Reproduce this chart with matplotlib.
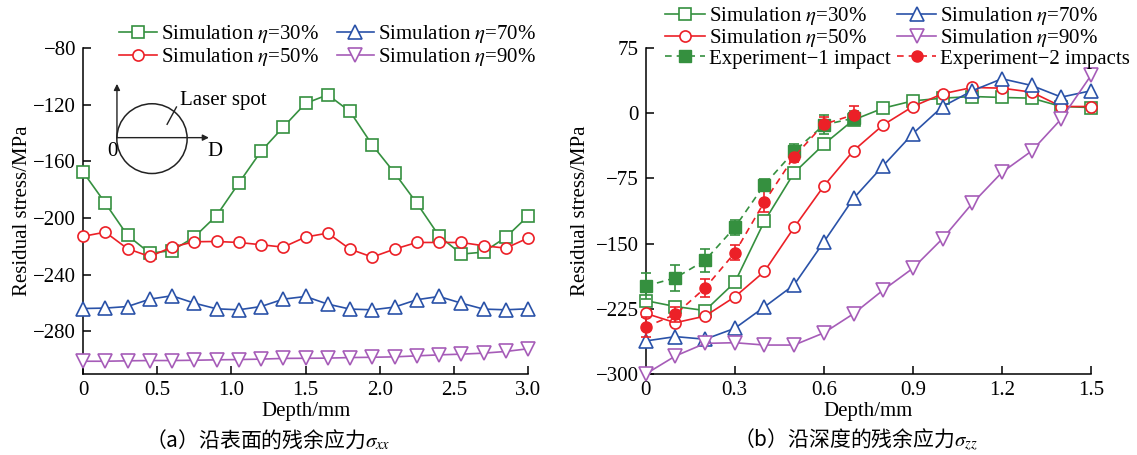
import matplotlib
matplotlib.use("Agg")
import matplotlib.pyplot as plt
from matplotlib.patches import Ellipse

plt.rcParams['font.family'] = ['Liberation Serif', 'DejaVu Serif']
plt.rcParams['mathtext.fontset'] = 'stix'
plt.rcParams['axes.unicode_minus'] = True

# ---- (a) along the surface, sigma_xx ----
depth_a = [0, 0.15, 0.3, 0.45, 0.6, 0.75, 0.9, 1.05, 1.2, 1.35, 1.5,
           1.65, 1.8, 1.95, 2.1, 2.25, 2.4, 2.55, 2.7, 2.85, 3.0]
a_eta30 = [-167.4, -189.4, -212.2, -224.7, -223.0, -213.4, -198.3, -175.4, -152.9, -135.8, -119.1,
           -113.0, -124.8, -148.4, -168.1, -189.4, -212.5, -225.4, -224.0, -213.6, -198.6]
a_eta50 = [-212.9, -209.9, -221.6, -227.1, -220.5, -216.7, -216.5, -217.2, -218.8, -220.5, -213.4,
           -210.6, -221.9, -227.5, -221.9, -217.2, -217.2, -217.2, -219.5, -221.2, -214.1]
a_eta70 = [-263.8, -263.5, -262.4, -257.2, -254.8, -260.0, -264.0, -264.7, -262.4, -257.2, -255.3,
           -260.7, -264.2, -264.7, -262.8, -257.6, -255.3, -260.0, -264.2, -264.7, -264.0]
a_eta90 = [-301.0, -301.0, -300.7, -300.5, -300.5, -300.3, -300.0, -299.8, -299.5, -299.0, -298.9,
           -298.8, -298.4, -298.2, -297.9, -297.2, -296.5, -296.0, -295.3, -294.1, -292.2]
a_xticks = [0, 0.5, 1.0, 1.5, 2.0, 2.5, 3.0]
a_xticklabels = ['0', '0.5', '1.0', '1.5', '2.0', '2.5', '3.0']
a_yticks = [-80, -120, -160, -200, -240, -280]

# ---- (b) along the depth, sigma_zz ----
depth_b = [0, 0.1, 0.2, 0.3, 0.4, 0.5, 0.6, 0.7, 0.8, 0.9, 1.0, 1.1, 1.2, 1.3, 1.4, 1.5]
b_eta30 = [-215.6, -222.4, -227.0, -194.7, -124.2, -68.5, -35.8, -7.7,
           5.8, 14.2, 17.3, 19.2, 18.1, 17.3, 7.7, 6.5]
b_eta50 = [-230.3, -241.0, -233.4, -211.3, -182.0, -131.4, -83.8, -43.1,
           -13.5, 7.7, 22.3, 29.6, 28.8, 24.2, 7.7, 7.7]
b_eta70 = [-262.0, -257.0, -260.0, -247.5, -222.8, -197.4, -148.1, -98.0,
           -60.4, -23.5, 7.7, 25.8, 39.6, 31.9, 18.5, 25.8]
b_eta90 = [-300.0, -279.3, -264.8, -264.0, -266.7, -266.7, -252.7, -230.7,
           -203.4, -178.4, -144.3, -103.8, -68.1, -43.5, -6.5, 43.5]
exp_depth = [0, 0.1, 0.2, 0.3, 0.4, 0.5, 0.6, 0.7]
exp1 = [-198.9, -189.4, -169.3, -131.4, -82.2, -44.0, -13.5, -5.8]
exp1_err = [15, 15, 13, 9, 6.5, 9, 11, 8]
exp2 = [-245.9, -231.4, -201.0, -160.6, -101.9, -50.0, -12.7, -1.9]
exp2_err = [11.5, 9, 10.5, 8.5, 12, 6.5, 8, 10]
b_xticks = [0, 0.3, 0.6, 0.9, 1.2, 1.5]
b_xticklabels = ['0', '0.3', '0.6', '0.9', '1.2', '1.5']
b_yticks = [75, 0, -75, -150, -225, -300]

labels_sim = [r'Simulation $\eta$=30%', r'Simulation $\eta$=50%',
              r'Simulation $\eta$=70%', r'Simulation $\eta$=90%']
labels_exp = ['Experiment\u22121 impact', 'Experiment\u22122 impacts']

GREEN = '#35903f'
RED = '#ec2027'
BLUE = '#2a52a8'
PURPLE = '#a65cb8'
colors = [GREEN, RED, BLUE, PURPLE]
markers = ['s', 'o', '^', 'v']
msizes = [8, 8, 9.5, 9.5]

FS = 15
W, H = 1137, 455
TOP, BOT = 48, 374

fig = plt.figure(figsize=(W / 100, H / 100), dpi=100)
ax1 = fig.add_axes([83 / W, 1 - BOT / H, 445 / W, (BOT - TOP) / H])
ax2 = fig.add_axes([645.7 / W, 1 - BOT / H, 445.3 / W, (BOT - TOP) / H])

for ax in (ax1, ax2):
    ax.spines['top'].set_visible(False)
    ax.spines['right'].set_visible(False)
    for s in ('left', 'bottom'):
        ax.spines[s].set_linewidth(1.1)
    ax.tick_params(direction='in', length=6, width=1.1, labelsize=FS, pad=5)

# panel (a)
handles_a = []
for ys, c, m, ms, lab in zip([a_eta30, a_eta50, a_eta70, a_eta90], colors, markers, msizes, labels_sim):
    h, = ax1.plot(depth_a, ys, color=c, marker=m, ms=ms, mfc='white', mec=c, mew=1.2,
                  lw=1.2, label=lab, clip_on=False, zorder=3)
    handles_a.append(h)

ax1.set_xlim(0, 3.0)
ax1.set_ylim(-310, -80)
ax1.set_xticks(a_xticks)
ax1.set_xticklabels(a_xticklabels)
ax1.set_yticks(a_yticks)
ax1.set_xlabel('Depth/mm', fontsize=FS)
ax1.set_ylabel('Residual stress/MPa', fontsize=FS)
ax1.xaxis.set_label_coords(0.5, -0.086)
ax1.yaxis.set_label_coords(-0.115, 0.5)

ax1.legend(handles=handles_a, ncol=2, loc='upper left', frameon=False, fontsize=FS,
           bbox_to_anchor=(119 / W, 1 - 23 / H), bbox_transform=fig.transFigure,
           borderpad=0, borderaxespad=0, handlelength=1.8, handletextpad=0.2,
           columnspacing=0.85, labelspacing=0.05)

# laser spot sketch
tr = ax1.transAxes
ax1.add_patch(Ellipse((0.155, 0.722), 0.158, 0.214, transform=tr,
                      fill=False, ec='#222222', lw=1.1))
ax1.annotate('', xy=(0.0763, 0.89), xytext=(0.0763, 0.725), xycoords=tr,
             arrowprops=dict(arrowstyle='-|>', color='#222222', lw=1.0, mutation_scale=9,
                             shrinkA=0, shrinkB=0))
ax1.annotate('', xy=(0.283, 0.725), xytext=(0.0763, 0.725), xycoords=tr,
             arrowprops=dict(arrowstyle='-|>', color='#222222', lw=1.0, mutation_scale=9,
                             shrinkA=0, shrinkB=0))
ax1.plot([0.189, 0.210], [0.766, 0.819], transform=tr, color='#222222', lw=1.0)
ax1.text(0.218, 0.84, 'Laser spot', transform=tr, fontsize=FS, va='center', ha='left')
ax1.text(0.066, 0.684, '0', transform=tr, fontsize=FS, va='center', ha='center')
ax1.text(0.297, 0.684, 'D', transform=tr, fontsize=FS, va='center', ha='center')

# panel (b)
handles_b = []
for ys, c, m, ms, lab in zip([b_eta30, b_eta50, b_eta70, b_eta90], colors, markers, msizes, labels_sim):
    h, = ax2.plot(depth_b, ys, color=c, marker=m, ms=ms, mfc='white', mec=c, mew=1.2,
                  lw=1.2, label=lab, clip_on=False, zorder=3)
    handles_b.append(h)

for ys, err, c, m, lab in zip([exp1, exp2], [exp1_err, exp2_err], [GREEN, RED], ['s', 'o'], labels_exp):
    ax2.errorbar(exp_depth, ys, yerr=err, fmt='none', ecolor=c, elinewidth=1.2,
                 capsize=3.5, capthick=1.2, zorder=4, clip_on=False)
    h, = ax2.plot(exp_depth, ys, color=c, ls=(0, (4, 3)), lw=1.2, marker=m, ms=8,
                  mfc=c, mec=c, label=lab, zorder=5, clip_on=False)
    handles_b.append(h)

ax2.set_xlim(0, 1.5)
ax2.set_ylim(-300, 75)
ax2.set_xticks(b_xticks)
ax2.set_xticklabels(b_xticklabels)
ax2.set_yticks(b_yticks)
ax2.set_xlabel('Depth/mm', fontsize=FS)
ax2.set_ylabel('Residual stress/MPa', fontsize=FS)
ax2.xaxis.set_label_coords(0.5, -0.086)
ax2.yaxis.set_label_coords(-0.125, 0.5)

order = [handles_b[0], handles_b[1], handles_b[4], handles_b[2], handles_b[3], handles_b[5]]
ax2.legend(handles=order, ncol=2, loc='upper left', frameon=False, fontsize=FS,
           bbox_to_anchor=(665 / W, 1 - 5 / H), bbox_transform=fig.transFigure,
           borderpad=0, borderaxespad=0, handlelength=1.9, handletextpad=0.2,
           columnspacing=0.3, labelspacing=0.0)

# captions
cjk = ['Noto Sans CJK SC', 'DejaVu Sans']
fig.text(268 / W, 1 - 440 / H, '（a）沿表面的残余应力$\\sigma_{xx}$', family=cjk,
         fontsize=15, ha='center', va='center')
fig.text(855 / W, 1 - 440 / H, '（b）沿深度的残余应力$\\sigma_{zz}$', family=cjk,
         fontsize=15, ha='center', va='center')

fig.savefig('out.png', dpi=100)
